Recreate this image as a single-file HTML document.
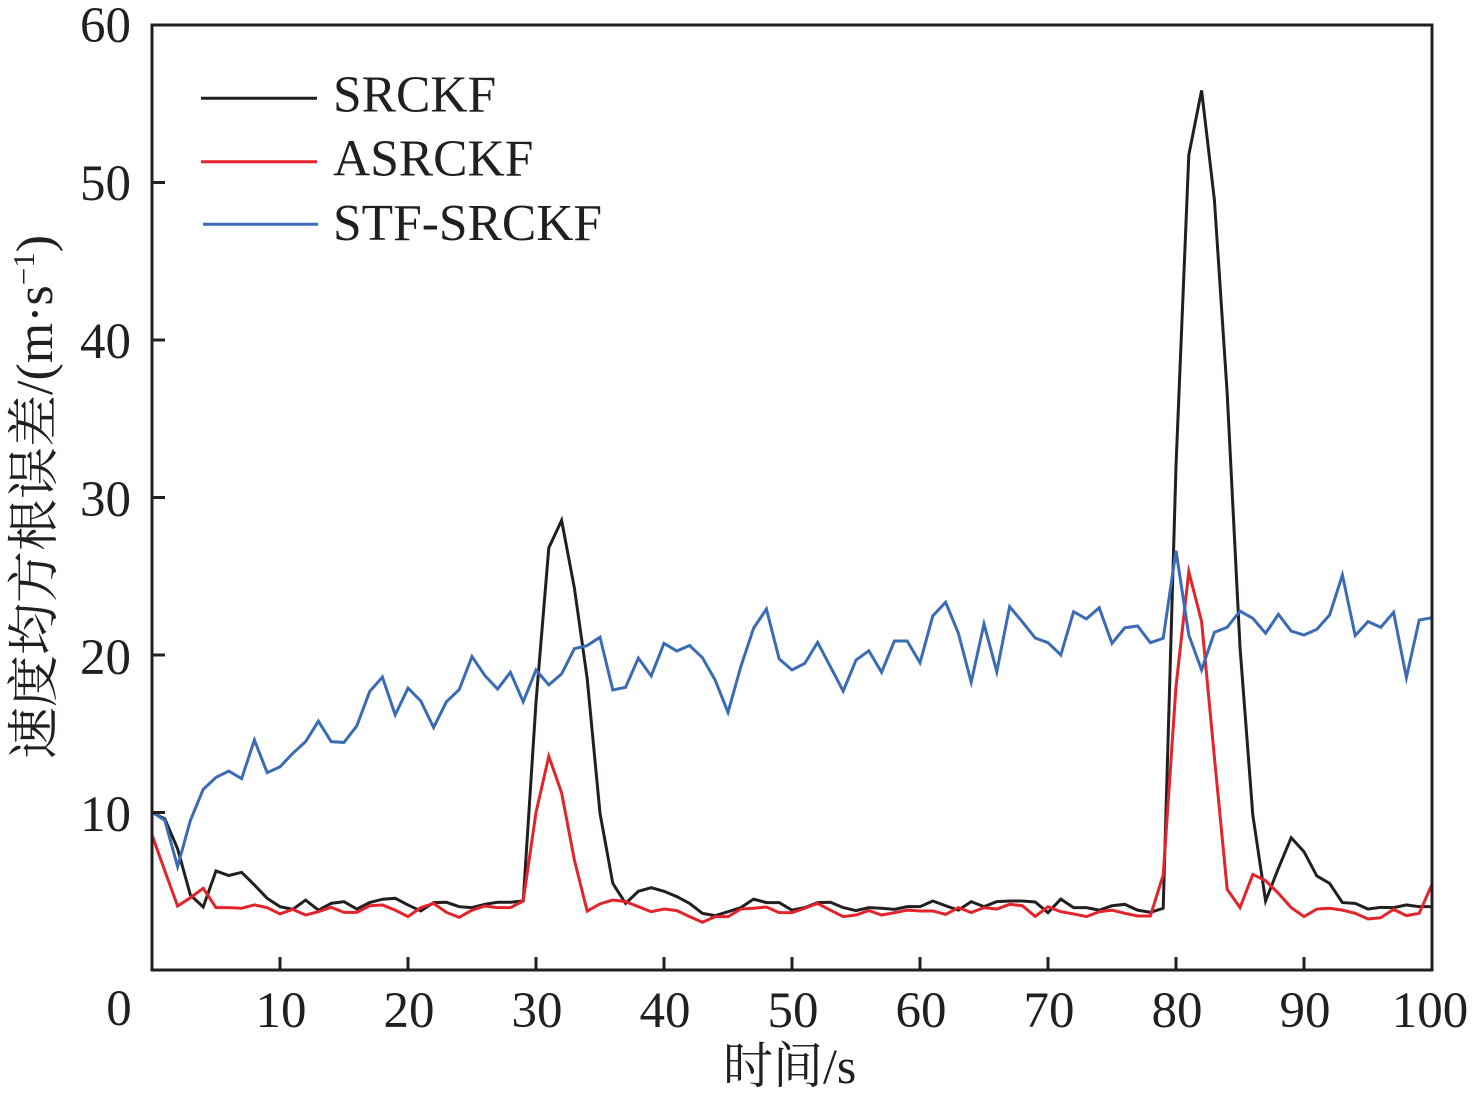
<!DOCTYPE html>
<html>
<head>
<meta charset="utf-8">
<style>
  html,body{margin:0;padding:0;background:#fff;}
  svg{display:block;}
  text{font-family:"Liberation Serif","Noto Serif CJK SC",serif;fill:#231f20;}
</style>
</head>
<body>
<svg width="1476" height="1099" viewBox="0 0 1476 1099" xmlns="http://www.w3.org/2000/svg">
  <rect x="0" y="0" width="1476" height="1099" fill="#fff"/>

  <!-- series -->
  <g transform="matrix(12.8,0,0,-15.75,152,970)" fill="none" stroke-linejoin="miter" stroke-miterlimit="6">
    <polyline vector-effect="non-scaling-stroke" stroke="#231f20" stroke-width="3" points="0,10 1,9.6 2,7.7 3,4.76 4,4 5,6.29 6,6 7,6.2 8,5.4 9,4.55 10,4.02 11,3.85 12,4.44 13,3.8 14,4.23 15,4.34 16,3.87 17,4.28 18,4.49 19,4.55 20,4.13 21,3.75 22,4.28 23,4.3 24,4.02 25,3.96 26,4.17 27,4.3 28,4.3 29,4.38 30,17 31,26.8 32,28.55 33,24.25 34,18.5 35,9.95 36,5.5 37,4.23 38,5 39,5.23 40,5 41,4.66 42,4.23 43,3.6 44,3.45 45,3.7 46,3.96 47,4.5 48,4.28 49,4.28 50,3.8 51,3.96 52,4.28 53,4.3 54,3.96 55,3.77 56,3.96 57,3.92 58,3.85 59,4.02 60,4.02 61,4.38 62,4.08 63,3.8 64,4.34 65,4.02 66,4.34 67,4.38 68,4.38 69,4.32 70,3.64 71,4.5 72,3.96 73,3.96 74,3.8 75,4.08 76,4.17 77,3.8 78,3.66 79,3.92 80,32 81,51.75 82,55.85 83,48.9 84,36.6 85,20.5 86,9.84 87,4.38 88,6.46 89,8.4 90,7.51 91,5.97 92,5.5 93,4.28 94,4.23 95,3.87 96,3.98 97,3.96 98,4.13 99,4.02 100,4.02"/>
    <polyline vector-effect="non-scaling-stroke" stroke="#e3242b" stroke-width="3" points="0,8.57 1,6.3 2,4.06 3,4.59 4,5.19 5,3.96 6,3.96 7,3.92 8,4.13 9,3.96 10,3.56 11,3.85 12,3.49 13,3.7 14,3.98 15,3.66 16,3.66 17,4.08 18,4.13 19,3.8 20,3.39 21,3.96 22,4.23 23,3.66 24,3.34 25,3.8 26,4.06 27,3.96 28,3.96 29,4.38 30,10 31,13.57 32,11.25 33,6.98 34,3.74 35,4.2 36,4.44 37,4.34 38,4.02 39,3.7 40,3.87 41,3.77 42,3.39 43,3.03 44,3.39 45,3.39 46,3.87 47,3.92 48,4 49,3.64 50,3.64 51,3.92 52,4.23 53,3.8 54,3.39 55,3.49 56,3.77 57,3.49 58,3.64 59,3.8 60,3.75 61,3.75 62,3.53 63,3.96 64,3.65 65,3.96 66,3.87 67,4.17 68,4.08 69,3.4 70,4.02 71,3.7 72,3.56 73,3.39 74,3.7 75,3.8 76,3.6 77,3.43 78,3.43 79,6.03 80,17.99 81,25.29 82,22.12 83,13.5 84,5.12 85,3.96 86,6.07 87,5.67 88,4.87 89,3.96 90,3.39 91,3.87 92,3.92 93,3.8 94,3.6 95,3.24 96,3.32 97,3.85 98,3.45 99,3.6 100,5.44"/>
    <polyline vector-effect="non-scaling-stroke" stroke="#3a6cb5" stroke-width="3" points="0,10.05 1,9.5 2,6.56 3,9.5 4,11.47 5,12.23 6,12.63 7,12.15 8,14.6 9,12.53 10,12.9 11,13.76 12,14.5 13,15.8 14,14.5 15,14.45 16,15.5 17,17.67 18,18.6 19,16.2 20,17.9 21,17.08 22,15.4 23,17.03 24,17.8 25,19.9 26,18.7 27,17.84 28,18.9 29,17.03 30,19.05 31,18.1 32,18.8 33,20.4 34,20.6 35,21.13 36,17.78 37,17.95 38,19.8 39,18.67 40,20.74 41,20.25 42,20.6 43,19.83 44,18.4 45,16.36 46,19.26 47,21.7 48,22.92 49,19.75 50,19.05 51,19.47 52,20.8 53,19.26 54,17.71 55,19.68 56,20.27 57,18.9 58,20.89 59,20.89 60,19.51 61,22.48 62,23.35 63,21.38 64,18.27 65,21.97 66,18.94 67,23.07 68,22.1 69,21.08 70,20.78 71,20 72,22.75 73,22.29 74,23 75,20.74 76,21.73 77,21.84 78,20.78 79,21.06 80,26.62 81,21.27 82,19.05 83,21.44 84,21.76 85,22.79 86,22.33 87,21.38 88,22.58 89,21.52 90,21.27 91,21.63 92,22.54 93,25.08 94,21.23 95,22.12 96,21.76 97,22.71 98,18.56 99,22.22 100,22.37"/>
  </g>

  <!-- axes frame -->
  <rect x="152" y="25" width="1280" height="945" fill="none" stroke="#231f20" stroke-width="3"/>

  <!-- ticks -->
  <g stroke="#231f20" stroke-width="3">
    <line x1="280" y1="970" x2="280" y2="957"/>
    <line x1="408" y1="970" x2="408" y2="957"/>
    <line x1="536" y1="970" x2="536" y2="957"/>
    <line x1="664" y1="970" x2="664" y2="957"/>
    <line x1="792" y1="970" x2="792" y2="957"/>
    <line x1="920" y1="970" x2="920" y2="957"/>
    <line x1="1048" y1="970" x2="1048" y2="957"/>
    <line x1="1176" y1="970" x2="1176" y2="957"/>
    <line x1="1304" y1="970" x2="1304" y2="957"/>
    <line x1="152" y1="812.5" x2="165" y2="812.5"/>
    <line x1="152" y1="655" x2="165" y2="655"/>
    <line x1="152" y1="497.5" x2="165" y2="497.5"/>
    <line x1="152" y1="340" x2="165" y2="340"/>
    <line x1="152" y1="182.5" x2="165" y2="182.5"/>
  </g>

  <!-- y tick labels -->
  <g font-size="51" text-anchor="end">
    <text x="131" y="42">60</text>
    <text x="131" y="200">50</text>
    <text x="131" y="358">40</text>
    <text x="131" y="516">30</text>
    <text x="131" y="674">20</text>
    <text x="131" y="831">10</text>
  </g>
  <text x="119" y="1025" font-size="51" text-anchor="middle">0</text>

  <!-- x tick labels -->
  <g font-size="51" text-anchor="middle">
    <text x="281" y="1027">10</text>
    <text x="409" y="1027">20</text>
    <text x="537" y="1027">30</text>
    <text x="665" y="1027">40</text>
    <text x="793" y="1027">50</text>
    <text x="921" y="1027">60</text>
    <text x="1049" y="1027">70</text>
    <text x="1177" y="1027">80</text>
    <text x="1305" y="1027">90</text>
    <text x="1430" y="1027">100</text>
  </g>

  <!-- axis titles -->
  <text x="723" y="1083" font-size="50">时间/s</text>
  <text transform="translate(52,759) rotate(-90)" font-size="52">速度均方根误差/(m·s<tspan dy="-18" font-size="31">−1</tspan><tspan dy="18">)</tspan></text>

  <!-- legend -->
  <g stroke-width="3">
    <line x1="201" y1="98.3" x2="317" y2="98.3" stroke="#231f20"/>
    <line x1="201" y1="161.7" x2="317" y2="161.7" stroke="#e3242b"/>
    <line x1="203" y1="224.3" x2="318" y2="224.3" stroke="#3a6cb5"/>
  </g>
  <g font-size="51.5">
    <text x="333" y="111.7">SRCKF</text>
    <text x="333" y="175.7">ASRCKF</text>
    <text x="333" y="240">STF-SRCKF</text>
  </g>
</svg>
</body>
</html>
